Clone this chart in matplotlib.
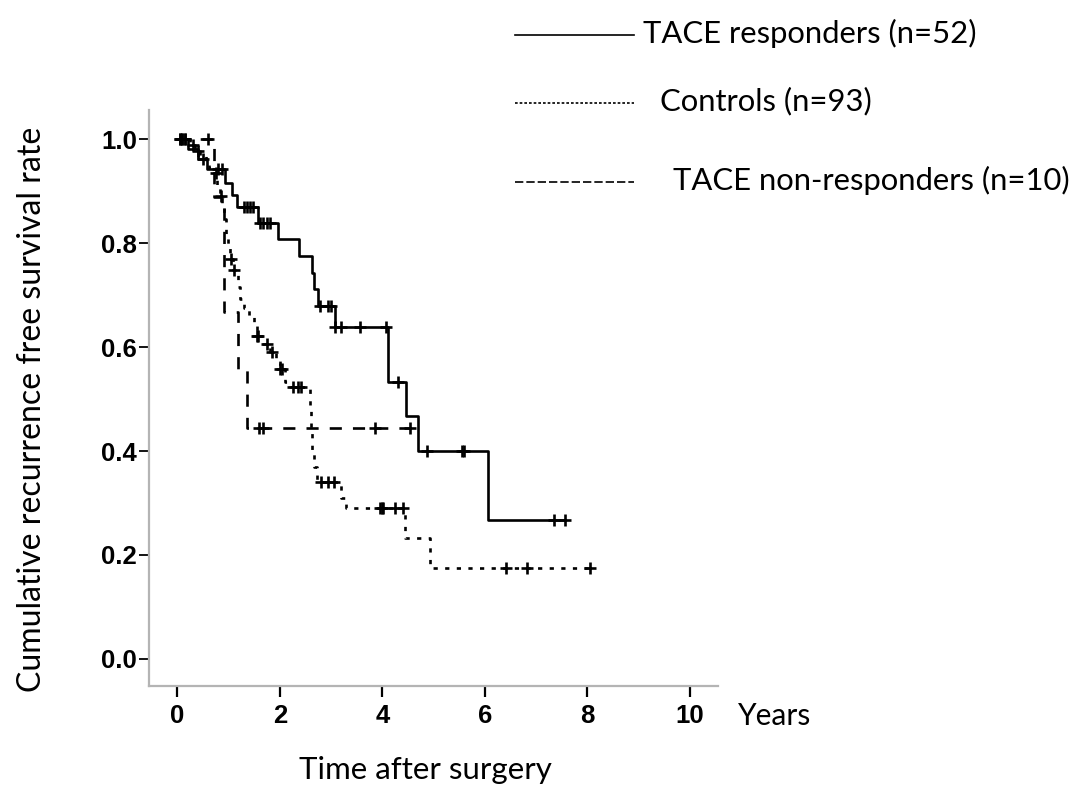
import numpy as np
import matplotlib.pyplot as plt
from matplotlib.lines import Line2D

# Kaplan-Meier steps (years, survival after step)
resp_t = [0, 0.2, 0.4, 0.58, 0.93, 1.06, 1.16, 1.57, 1.97, 2.38, 2.63, 2.67, 2.74, 3.07, 4.11, 4.46, 4.69, 6.06]
resp_s = [1.0, 0.981, 0.962, 0.942, 0.915, 0.892, 0.870, 0.839, 0.807, 0.775, 0.743, 0.711, 0.679, 0.639, 0.533, 0.467, 0.400, 0.267]
resp_cens = [0.05, 0.1, 0.15, 0.5, 0.8, 0.87, 1.3, 1.36, 1.42, 1.47, 1.62, 1.68, 1.75, 1.8,
             2.78, 2.94, 3.0, 3.08, 3.2, 3.56, 4.07, 4.30, 4.87, 5.55, 5.59, 7.34, 7.56]

ctrl_t = [0, 0.25, 0.35, 0.45, 0.55, 0.62, 0.70, 0.78, 0.84, 0.88, 0.92, 0.95, 0.98, 1.02, 1.08,
          1.18, 1.22, 1.30, 1.40, 1.50, 1.55, 1.65, 1.80, 1.92, 2.00, 2.10, 2.20,
          2.58, 2.60, 2.63, 2.66, 2.72, 3.20, 3.30, 4.44, 4.93]
ctrl_s = [1.0, 0.989, 0.978, 0.967, 0.956, 0.945, 0.934, 0.912, 0.890, 0.868, 0.846, 0.813, 0.792, 0.770, 0.748,
          0.715, 0.693, 0.676, 0.660, 0.645, 0.622, 0.606, 0.590, 0.573, 0.558, 0.533, 0.523,
          0.480, 0.440, 0.400, 0.370, 0.340, 0.310, 0.290, 0.233, 0.175]
ctrl_cens = [0.05, 0.1, 0.15, 0.3, 0.4, 0.75, 0.86, 1.05, 1.1, 1.55, 1.58, 1.75, 1.85, 2.0, 2.05,
             2.25, 2.35, 2.42, 2.8, 2.93, 3.05, 3.95, 4.0, 4.02, 4.24, 4.40, 6.41, 6.82, 8.05]

nonresp_t = [0, 0.72, 0.91, 1.19, 1.35]
nonresp_s = [1.0, 0.889, 0.667, 0.556, 0.444]
nonresp_cens = [0.6, 1.6, 1.68, 3.85, 4.54]

labels = ["TACE responders (n=52)", "Controls (n=93)", "TACE non-responders (n=10)"]

W, H = 1087, 797
fig = plt.figure(figsize=(W/100, H/100), dpi=100)
ax = fig.add_axes([149/W, 1-686/H, (718-149)/W, (686-110)/H])

styles = [dict(ls="-"), dict(ls=(0, (1.6, 2.8))), dict(ls=(0, (4.6, 4.2)))]
series = [(resp_t, resp_s, resp_cens), (ctrl_t, ctrl_s, ctrl_cens), (nonresp_t, nonresp_s, nonresp_cens)]

for (t, s, c), st in zip(series, styles):
    t = np.array(t); s = np.array(s); c = np.array(c)
    tt = np.append(t, c.max())
    ss = np.append(s, s[-1])
    ax.step(tt, ss, where="post", color="black", lw=1.9, **st)
    cy = s[np.searchsorted(t, c, side="right") - 1]
    ax.plot(c, cy, ls="none", marker="+", color="black", ms=8.5, mew=1.9)

ax.set_xlim(-0.552, 10.546)
ax.set_ylim(-0.052, 1.056)
ax.set_xticks([0, 2, 4, 6, 8, 10])
ax.set_yticks([0.0, 0.2, 0.4, 0.6, 0.8, 1.0])
ax.set_yticklabels(["0.0", "0.2", "0.4", "0.6", "0.8", "1.0"])
for sp in ["top", "right"]:
    ax.spines[sp].set_visible(False)
for sp in ["left", "bottom"]:
    ax.spines[sp].set_color("#b4b4b4")
    ax.spines[sp].set_linewidth(1.6)
ax.tick_params(axis="x", length=8, width=1.6, color="black", pad=5)
ax.tick_params(axis="y", length=7, width=1.3, color="black", pad=1.5)
for lab in ax.get_xticklabels() + ax.get_yticklabels():
    lab.set_family("Liberation Sans")
    lab.set_fontweight("bold")
    lab.set_fontsize(18.5)

txt = dict(family="Lato", color="black")
fig.text(32/W, 1-409/H, "Cumulative recurrence free survival rate", rotation=90,
         ha="center", va="center", fontsize=23, **txt)
fig.text(425/W, 1-770/H, "Time after surgery", ha="center", va="center", fontsize=22.5, **txt)
fig.text(738/W, 1-716/H, "Years", ha="left", va="center", fontsize=21.5, **txt)

# legend drawn by hand like the original
leg_y = [35, 103, 182]
leg_x = [643, 660, 673]
leg_ls = ["-", (0, (1.6, 1.2)), (0, (5.0, 1.8))]
for y, x, ls, lab in zip(leg_y, leg_x, leg_ls, labels):
    fig.add_artist(Line2D([515/W, 634/W], [1-y/H, 1-y/H], transform=fig.transFigure,
                          color="black", lw=1.2, ls=ls))
    fig.text(x/W, 1-(y-2)/H, lab, ha="left", va="center", fontsize=22.3, **txt)

fig.savefig("out.png", dpi=100)
